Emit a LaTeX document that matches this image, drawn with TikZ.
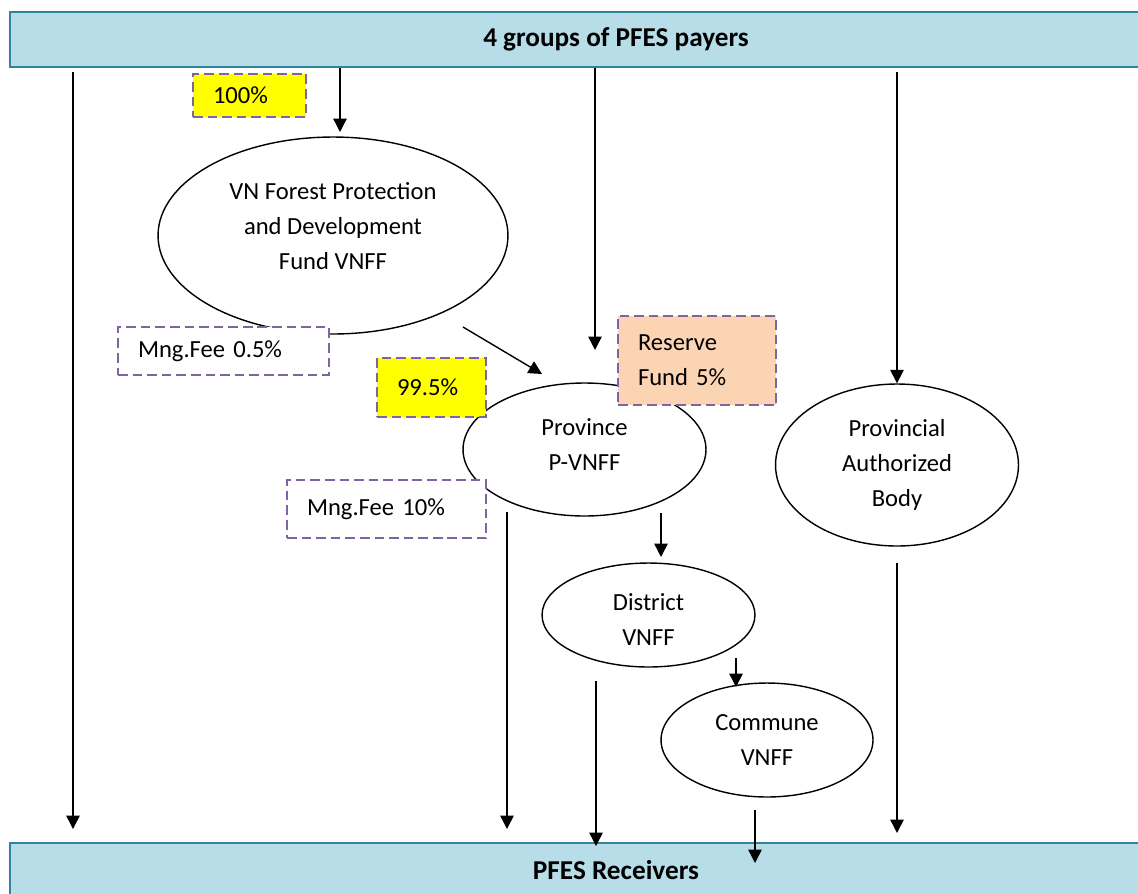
\documentclass[tikz,border=0pt]{standalone}
\usepackage{fontspec}
\setmainfont{Carlito}
\usetikzlibrary{shapes.geometric,arrows.meta}
\definecolor{barfill}{HTML}{B7DDE8}
\definecolor{barline}{HTML}{31849B}
\definecolor{feeline}{HTML}{8064A2}
\definecolor{pctfill}{HTML}{FFFF00}
\definecolor{resfill}{HTML}{FBD4B4}

\tikzset{
  fund/.style={draw, ellipse, line width=0.8pt, fill=white, inner sep=0pt, align=center, font=\fontsize{14}{19.9}\selectfont},
  bar/.style={draw=barline, fill=barfill, line width=1.1pt, minimum width=24.24cm, minimum height=1.1cm, font=\fontsize{15.5}{18}\selectfont\bfseries},
  feebox/.style={draw=feeline, dash pattern=on 5.5pt off 2.8pt, line width=1.2pt, fill=white, inner xsep=0.4cm, inner ysep=0pt, align=left, font=\fontsize{14}{19.9}\selectfont},
  arr/.style={-{Triangle[length=7.6pt,width=7.6pt]}, line width=0.8pt},
}

\begin{document}
\begin{tikzpicture}[x=0.02cm, y=-0.02cm]
    \useasboundingbox (0,0) rectangle (1138,893);

    % payers and receivers
    \node[bar] (payers) at (616,39.5) {4 groups of PFES payers};
    \node[bar] (receivers) at (616,870.5) {PFES Receivers};

    % funds
    \node[fund, minimum width=7cm, minimum height=3.94cm, text depth=10.8pt] (vnff) at (333,235.5) {VN Forest Protection\\and Development\\Fund VNFF};
    \node[fund, minimum width=4.86cm, minimum height=2.66cm, text depth=5.7pt] (prov) at (584.5,449.5) {Province\\P-VNFF};
    \node[fund, minimum width=4.86cm, minimum height=3.24cm] (pab) at (897,465) {Provincial\\Authorized\\Body};
    \node[fund, minimum width=4.26cm, minimum height=2.08cm, text height=34.5pt] (district) at (648.5,615) {District\\VNFF};
    \node[fund, minimum width=4.24cm, minimum height=2.28cm] (commune) at (767,740) {Commune\\VNFF};

    % shares and fees
    \node[feebox, fill=pctfill, text width=1.46cm, minimum height=0.86cm] (share100) at (249.5,95.5) {100\%};
    \node[feebox, text width=3.42cm, minimum height=0.96cm] (fee05) at (223.5,351) {Mng.Fee 0.5\%};
    \node[feebox, fill=pctfill, text width=1.38cm, minimum height=1.18cm] (share995) at (431.5,387.5) {99.5\%};
    \node[feebox, text width=3.18cm, minimum height=1.16cm] (fee10) at (386.5,509) {Mng.Fee 10\%};
    \node[feebox, fill=resfill, text width=2.36cm, minimum height=1.78cm] (reserve) at (697,360.5) {Reserve\\Fund 5\%};

    % free ends of the flows
    \coordinate (directTop) at (73,72);
    \coordinate (directEnd) at (73,829);
    \coordinate (vnffIn) at (340,132);
    \coordinate (provIn) at (595,350);
    \coordinate (pabTop) at (897,72);
    \coordinate (vnffOut) at (463,327);
    \coordinate (provTip) at (542,374);
    \coordinate (provOut) at (661,513);
    \coordinate (districtIn) at (661,557);
    \coordinate (provDown) at (507,512);
    \coordinate (provEnd) at (507,829);
    \coordinate (districtDown) at (596,681);
    \coordinate (districtEnd) at (596,846);
    \coordinate (districtOut) at (736,658);
    \coordinate (communeIn) at (736,687);
    \coordinate (communeDown) at (755,810);
    \coordinate (communeEnd) at (755,863);
    \coordinate (pabDown) at (897,563);
    \coordinate (pabEnd) at (897,833);

    % flows from the payers
    \draw[arr] (directTop) -- (directEnd);
    \draw[arr] (payers.south -| vnffIn) -- (vnffIn);
    \draw[arr] (payers.south -| provIn) -- (provIn);
    \draw[arr] (pabTop) -- (pab.north);

    % flows between funds
    \draw[arr] (vnffOut) -- (provTip);
    \draw[arr] (provOut) -- (districtIn);
    \draw[arr] (districtOut) -- (communeIn);

    % flows to the receivers
    \draw[arr] (provDown) -- (provEnd);
    \draw[arr] (districtDown) -- (districtEnd);
    \draw[arr] (communeDown) -- (communeEnd);
    \draw[arr] (pabDown) -- (pabEnd);
\end{tikzpicture}
\end{document}
